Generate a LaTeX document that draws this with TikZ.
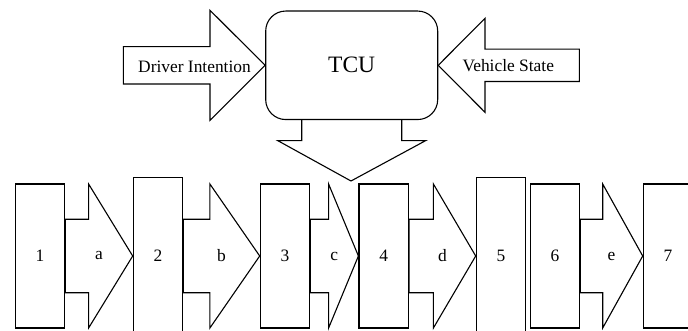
\documentclass[tikz,border=0pt]{standalone}
\usepackage{fontspec}
\setmainfont{Liberation Serif}
\newfontfamily\tnrfont{Liberation Serif}
\usetikzlibrary{calc}

% block arrow: start, tip, head base offset, shaft half, head half
\newcommand{\blockarrow}[5]{%
  \draw[blk] let \p1=(#1), \p2=(#2) in
    (\x1,{\y2+#4pt}) -- ({\x1+(#3pt)},{\y2+#4pt}) -- ({\x1+(#3pt)},{\y2+#5pt}) -- (\p2)
    -- ({\x1+(#3pt)},{\y2-#5pt}) -- ({\x1+(#3pt)},{\y2-#4pt}) -- (\x1,{\y2-#4pt}) -- cycle;
}

\begin{document}
\begin{tikzpicture}[
    x=1pt, y=-1pt,
    font=\tnrfont\fontsize{17.4}{20}\selectfont,
    blk/.style={draw, line width=1.1pt},
    box/.style={
        draw, rectangle, line width=1.1pt, inner sep=0pt,
        minimum width=49.5pt, minimum height=144pt
    },
    tall/.style={
        box, minimum height=157.4pt
    },
    ctrl/.style={
        draw, rectangle, rounded corners=20pt, line width=1.1pt,
        minimum width=172pt, minimum height=108.5pt,
        font=\tnrfont\fontsize{23.5}{26}\selectfont
    },
]
    \useasboundingbox (0,0) rectangle (688,331);

    \node[ctrl](tcu) at (351.7,65.3) {TCU};
    \coordinate (din) at (123.3,66.3);
    \coordinate (vst) at (579.3,65.5);
    \coordinate (dtip) at (351,181);

    \node[box](b1) at (40,256) {1};
    \node[tall](b2) at (158,256) {2};
    \node[box](b3) at (285,256) {3};
    \node[box](b4) at (383.7,256) {4};
    \node[tall](b5) at (501,256) {5};
    \node[box](b6) at (555,256) {6};
    \node[box](b7) at (668,256) {7};

    \blockarrow{din}{tcu.west}{86.7}{18.7}{55}
    \blockarrow{vst}{tcu.east}{-94.3}{16.2}{47}
    \draw[blk] let \p1=(tcu.south), \p2=(dtip) in
        ({\x1-50pt},\y1) -- ({\x1-50pt},{\y1-20.5pt}) -- ({\x1-74pt},{\y1-20.5pt}) -- (\p2)
        -- ({\x1+74pt},{\y1-20.5pt}) -- ({\x1+50pt},{\y1-20.5pt}) -- ({\x1+50pt},\y1);

    \node(ldi) at (194.5,66.7) {Driver Intention};
    \node(lvs) at (508.3,66) {Vehicle State};

    \blockarrow{b1.east}{b2.west}{23.3}{36.7}{72}
    \blockarrow{b2.east}{b3.west}{26.6}{36.7}{72}
    \blockarrow{b3.east}{b4.west}{18.3}{36.7}{72}
    \blockarrow{b4.east}{b5.west}{24.4}{36.7}{72}
    \blockarrow{b6.east}{b7.west}{22.4}{36.7}{72}

    \node(la) at ($(b1.east)!.5!(b2.west)$) {a};
    \node(lb) at ($(b2.east)!.5!(b3.west)$) {b};
    \node(lc) at ($(b3.east)!.5!(b4.west)$) {c};
    \node(ld) at ($(b4.east)!.5!(b5.west)$) {d};
    \node(le) at ($(b6.east)!.5!(b7.west)$) {e};

\end{tikzpicture}
\end{document}
